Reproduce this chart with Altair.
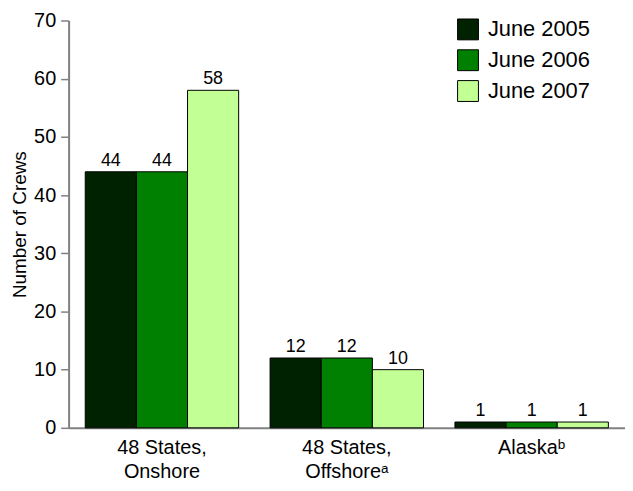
import altair as alt
import pandas as pd

categories = ["48 States,|Onshore", "48 States,|Offshoreᵃ", "Alaskaᵇ"]
years = ["June 2005", "June 2006", "June 2007"]
june_2005 = [44, 12, 1]
june_2006 = [44, 12, 1]
june_2007 = [58, 10, 1]
colors = ["#002200", "#008000", "#c2ff94"]
y_ticks = [0, 10, 20, 30, 40, 50, 60, 70]

rows = []
for series, vals in zip(years, [june_2005, june_2006, june_2007]):
    for c, v in zip(categories, vals):
        rows.append({"region": c, "period": series, "crews": v})
df = pd.DataFrame(rows)

font = "Liberation Sans, Arial, Helvetica, sans-serif"

base = alt.Chart(df).encode(
    x=alt.X(
        "region:N",
        sort=categories,
        scale=alt.Scale(paddingInner=0.17, paddingOuter=0.09),
        axis=alt.Axis(
            title=None,
            labelAngle=0,
            labelExpr="split(datum.label, '|')",
            labelFontSize=20,
            labelLineHeight=24,
            labelPadding=10,
            labelColor="black",
            labelFont=font,
            ticks=False,
            domainColor="#808080",
            domainWidth=2,
        ),
    ),
    xOffset=alt.XOffset("period:N", sort=years, scale=alt.Scale(paddingInner=0, paddingOuter=0)),
    y=alt.Y(
        "crews:Q",
        scale=alt.Scale(domain=[0, 70]),
        axis=alt.Axis(
            title="Number of Crews",
            titleFont=font,
            titleFontSize=19,
            titleFontWeight="normal",
            titleColor="black",
            titlePadding=4,
            values=y_ticks,
            grid=False,
            labelFontSize=20,
            labelFont=font,
            labelColor="black",
            labelPadding=5,
            tickSize=8,
            tickColor="#808080",
            tickWidth=1.5,
            domainColor="#808080",
            domainWidth=2,
        ),
    ),
)

bars = base.mark_bar(stroke="black", strokeWidth=1).encode(
    color=alt.Color(
        "period:N",
        sort=years,
        scale=alt.Scale(domain=years, range=colors),
        legend=alt.Legend(
            title=None,
            orient="none",
            legendX=391,
            legendY=-2,
            padding=0,
            symbolType="square",
            symbolSize=441,
            symbolStrokeColor="black",
            symbolStrokeWidth=1,
            labelFontSize=22,
            labelFont=font,
            labelColor="black",
            labelOffset=9,
            rowPadding=5,
        ),
    )
)

labels = base.mark_text(
    baseline="alphabetic", dy=-6, fontSize=18, font=font, color="black"
).encode(text="crews:Q")

chart = (
    alt.layer(bars, labels)
    .properties(
        width=560,
        height=410,
        autosize="none",
        padding={"left": 61, "top": 11, "right": 0, "bottom": 60},
    )
    .configure_view(stroke=None)
)

chart.save("out.html", embed_options={"renderer": "svg", "actions": False})
